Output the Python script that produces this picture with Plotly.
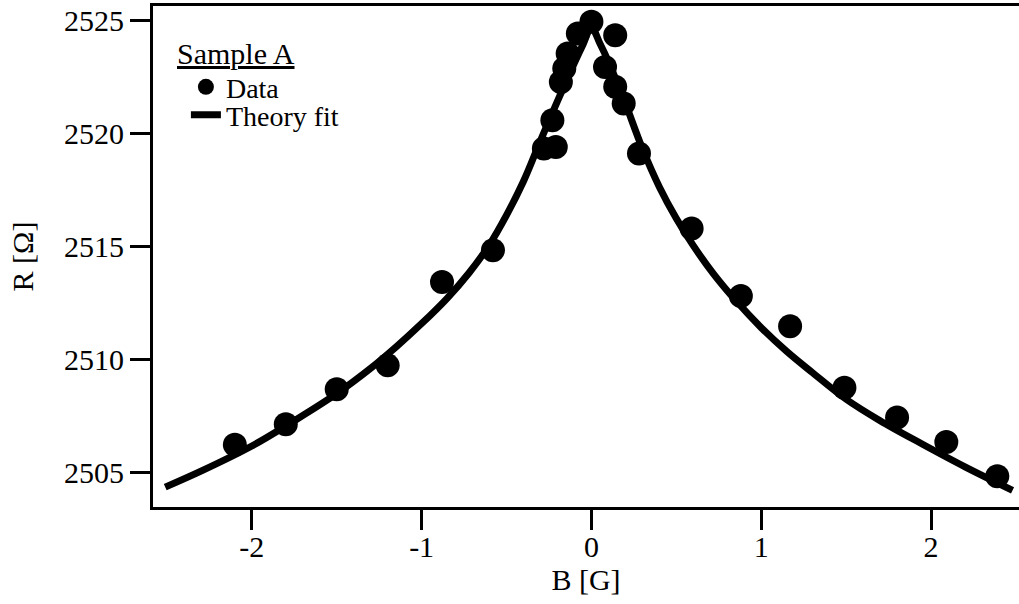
import plotly.graph_objects as go

# Measured data (B in gauss, R in ohm)
data_B = [-2.10, -1.80, -1.50, -1.20, -0.88, -0.58,
          -0.28, -0.21, -0.23, -0.18, -0.16, -0.14, -0.08, 0.00,
          0.14, 0.08, 0.14, 0.19, 0.28,
          0.59, 0.88, 1.17, 1.49, 1.80, 2.09, 2.39]
data_R = [2506.24, 2507.14, 2508.69, 2509.75, 2513.44, 2514.85,
          2519.35, 2519.42, 2520.60, 2522.30, 2522.89, 2523.56, 2524.44, 2524.96,
          2524.37, 2522.96, 2522.08, 2521.34, 2519.13,
          2515.81, 2512.82, 2511.48, 2508.76, 2507.44, 2506.36, 2504.84]

# Theory fit curve
fit_B = [-2.51, -2.29, -2.00, -1.75, -1.50, -1.30, -1.15, -1.00, -0.85, -0.72,
         -0.60, -0.50, -0.40, -0.30, -0.20, -0.15, -0.10, -0.05, 0.00,
         0.05, 0.10, 0.15, 0.20, 0.30, 0.40, 0.50, 0.60, 0.72, 0.85,
         1.00, 1.15, 1.30, 1.50, 1.70, 1.95, 2.20, 2.48]
fit_R = [2504.36, 2505.10, 2506.18, 2507.30, 2508.50, 2509.62, 2510.57, 2511.60, 2512.72, 2513.85,
         2515.10, 2516.40, 2517.90, 2519.70, 2521.45, 2522.30, 2523.15, 2523.95, 2524.70,
         2524.00, 2523.20, 2522.30, 2521.35, 2519.35, 2517.65, 2516.25, 2515.05, 2513.79, 2512.62,
         2511.42, 2510.37, 2509.44, 2508.25, 2507.30, 2506.26, 2505.26, 2504.22]

x_ticks = [-2, -1, 0, 1, 2]
y_ticks = [2505, 2510, 2515, 2520, 2525]

legend_title = "Sample A"

FONT = "Liberation Serif"
FS = 30

fig = go.Figure()
fig.add_trace(go.Scatter(
    x=data_B, y=data_R, mode="markers", name="Data", legend="legend",
    marker=dict(color="black", size=24, symbol="circle"),
))
fig.add_trace(go.Scatter(
    x=fit_B, y=fit_R, mode="lines", name="Theory fit", legend="legend2",
    line=dict(color="black", width=7, shape="spline", smoothing=1.0),
))

axis_common = dict(
    showgrid=False, zeroline=False, automargin=False,
    showline=True, linecolor="black", linewidth=3,
    ticks="outside", ticklen=20, tickwidth=3, tickcolor="black",
    tickfont=dict(family=FONT, size=FS, color="black"),
)

legend_common = dict(
    xanchor="left", yanchor="top",
    bgcolor="rgba(0,0,0,0)", borderwidth=0,
    font=dict(family=FONT, size=28, color="black"),
    itemsizing="trace",
)

fig.update_layout(
    width=1019, height=604,
    margin=dict(l=153, r=0, t=6, b=97),
    paper_bgcolor="white", plot_bgcolor="white",
    font=dict(family=FONT, size=FS, color="black"),
    xaxis=dict(range=[-2.582, 2.518], tickvals=x_ticks,
               ticktext=[str(v) for v in x_ticks],
               mirror=True, ticklabelstandoff=-9,
               title=dict(text="B [G]", font=dict(family=FONT, size=FS), standoff=6),
               **axis_common),
    yaxis=dict(range=[2503.48, 2525.66], tickvals=y_ticks,
               ticktext=[str(v) for v in y_ticks],
               title=dict(text="R [Ω]", font=dict(family=FONT, size=FS), standoff=22),
               **axis_common),
    showlegend=True,
    legend=dict(x=0.038, y=0.888, **legend_common),
    legend2=dict(x=0.038, y=0.832, **legend_common),
    annotations=[dict(
        text="<u>" + legend_title + "</u>", xref="paper", yref="paper",
        x=0.0254, y=0.906, xanchor="left", yanchor="middle", showarrow=False,
        font=dict(family=FONT, size=30, color="black"),
    )],
)

fig.write_html(
    "out.html", config={"displayModeBar": False},
    post_script=("document.body.style.margin='0';"
                 "document.body.style.overflow='hidden';"
                 "document.documentElement.style.overflow='hidden';"),
)
